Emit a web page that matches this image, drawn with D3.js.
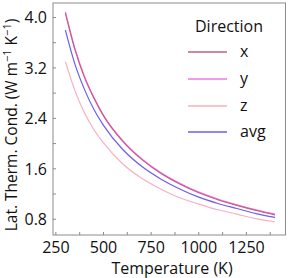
<!DOCTYPE html>
<html><head><meta charset="utf-8">
<script src="https://cdn.jsdelivr.net/npm/d3@7"></script>
<style>
html,body{margin:0;padding:0;background:#fff;}
text{font-family:"Open Sans",Lato,sans-serif;font-weight:400;fill:#111;}
</style></head>
<body><svg id="c" width="288" height="278"></svg>
<script>
const temperature = [300,350,400,450,500,600,700,800,900,1000,1100,1200,1300,1400];
const seriesX   = [4.07,3.49,3.05,2.72,2.44,2.04,1.75,1.53,1.36,1.22,1.11,1.02,0.94,0.87];
const seriesY   = [4.09,3.51,3.07,2.73,2.45,2.05,1.76,1.54,1.37,1.23,1.12,1.03,0.95,0.88];
const seriesZ   = [3.30,2.84,2.49,2.22,2.01,1.68,1.45,1.28,1.14,1.04,0.95,0.88,0.81,0.76];
const seriesAvg = [3.80,3.26,2.86,2.54,2.29,1.91,1.64,1.44,1.28,1.15,1.05,0.97,0.89,0.83];
const seriesNames = ["x","y","z","avg"];
const seriesColors = ["#c85a8e","#ee78e6","#f7b0c0","#6a5ef0"];
const xTicks = [250,500,750,1000,1250];
const xMinor = [375,625,875,1125,1375];
const yTicks = [0.8,1.6,2.4,3.2,4.0];
const yMinor = [1.2,2.0,2.8,3.6];

const svg = d3.select("#c");
const L=53, T=3, R=285.5, B=235;
const x = d3.scaleLinear().domain([235,1455]).range([L,R]);
const y = d3.scaleLinear().domain([0.55,4.23]).range([B,T]);

const allSeries = [seriesX, seriesY, seriesZ, seriesAvg];
const drawOrder = [2,3,1,0];
const line = d3.line().x((d,i)=>x(temperature[i])).y(d=>y(d)).curve(d3.curveMonotoneX);
drawOrder.forEach(k=>{
  svg.append("path").datum(allSeries[k]).attr("d",line)
    .attr("fill","none").attr("stroke",seriesColors[k]).attr("stroke-width",1.2);
});

svg.append("rect").attr("x",L).attr("y",T).attr("width",R-L).attr("height",B-T)
  .attr("fill","none").attr("stroke","#8c8c8c").attr("stroke-width",1);

const gx = svg.append("g");
xTicks.concat(xMinor).forEach(t=>{
  gx.append("line").attr("x1",x(t)).attr("x2",x(t)).attr("y1",B).attr("y2",B-3)
    .attr("stroke","#8c8c8c");
});
xTicks.forEach(t=>{
  gx.append("text").attr("x",x(t)).attr("y",253).attr("text-anchor","middle")
    .attr("font-size",16).text(t);
});
const gy = svg.append("g");
yTicks.concat(yMinor).forEach(t=>{
  gy.append("line").attr("x1",L).attr("x2",L+3).attr("y1",y(t)).attr("y2",y(t))
    .attr("stroke","#8c8c8c");
});
yTicks.forEach(t=>{
  gy.append("text").attr("x",47).attr("y",y(t)).attr("dy","0.36em").attr("text-anchor","end")
    .attr("font-size",16).text(t.toFixed(1));
});

svg.append("text").attr("x",172).attr("y",274).attr("text-anchor","middle")
  .attr("font-size",16).text("Temperature (K)");
const yl = svg.append("text").attr("transform","translate(17,125) rotate(-90)")
  .attr("text-anchor","middle").attr("font-size",15.5);
yl.append("tspan").text("Lat. Therm. Cond. (W m");
yl.append("tspan").attr("dy",-6).attr("font-size",11).text("−1");
yl.append("tspan").attr("dy",6).text(" K");
yl.append("tspan").attr("dy",-6).attr("font-size",11).text("−1");
yl.append("tspan").attr("dy",6).text(")");

const lg = svg.append("g");
lg.append("text").attr("x",229).attr("y",26).attr("dy","0.36em").attr("text-anchor","middle")
  .attr("font-size",16).text("Direction");
const rowY = [52,79,106,132];
seriesNames.forEach((n,i)=>{
  lg.append("line").attr("x1",188).attr("x2",227).attr("y1",rowY[i]).attr("y2",rowY[i])
    .attr("stroke",seriesColors[i]).attr("stroke-width",1.5);
  lg.append("text").attr("x",240).attr("y",rowY[i]).attr("dy","0.33em")
    .attr("font-size",16).text(n);
});
</script></body></html>
